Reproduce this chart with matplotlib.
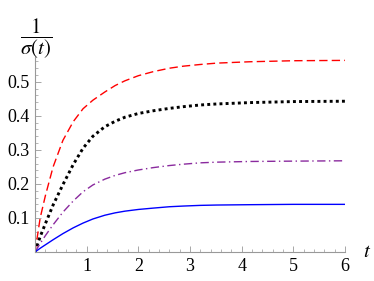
import matplotlib.pyplot as plt
from matplotlib.ticker import MultipleLocator

# values
t = [0, 0.1, 0.2, 0.35, 0.54, 0.74, 0.93, 1.12, 1.35, 1.55, 1.74, 2.0, 2.29, 2.6,
     2.87, 3.2, 3.52, 4.16, 5.0, 6.0]
red = [0, 0.10, 0.165, 0.25, 0.328, 0.383, 0.421, 0.446, 0.470, 0.489, 0.503, 0.518,
       0.530, 0.540, 0.546, 0.551, 0.555, 0.559, 0.562, 0.563]
black = [0, 0.045, 0.083, 0.138, 0.198, 0.257, 0.305, 0.340, 0.368, 0.384, 0.396, 0.407,
         0.415, 0.422, 0.427, 0.432, 0.435, 0.439, 0.442, 0.443]
purple = [0, 0.025, 0.048, 0.080, 0.117, 0.150, 0.177, 0.197, 0.214, 0.225, 0.233, 0.241,
          0.248, 0.254, 0.258, 0.262, 0.264, 0.266, 0.267, 0.268]
blue = [0, 0.011, 0.021, 0.036, 0.054, 0.071, 0.085, 0.097, 0.108, 0.115, 0.120, 0.125,
        0.129, 0.133, 0.135, 0.137, 0.138, 0.139, 0.140, 0.140]

xticks = [1, 2, 3, 4, 5, 6]
yticks = [0.1, 0.2, 0.3, 0.4, 0.5]

plt.rcParams['font.family'] = 'Liberation Serif'
plt.rcParams['mathtext.fontset'] = 'stix'

fig = plt.figure(figsize=(3.74, 2.81), dpi=100)
ax = fig.add_axes([0.0936, 0.1032, 0.8289, 0.694])

ax.plot(t, red, color='#ff0000', lw=1.0, dashes=(6, 3))
ax.plot(t, black, color='black', lw=2.1, dashes=(1, 1.1))
ax.plot(t, purple, color='#8a2a9e', lw=1.0, dashes=(6, 2.5, 1, 2.5))
ax.plot(t, blue, color='#0000ff', lw=1.0)

ax.set_xlim(0, 6)
ax.set_ylim(0, 0.573)

for side in ['top', 'right']:
    ax.spines[side].set_visible(False)
for side in ['left', 'bottom']:
    ax.spines[side].set_color('#999999')
    ax.spines[side].set_linewidth(0.8)

ax.set_xticks(xticks)
ax.set_yticks(yticks)
ax.set_yticklabels([f'{v:.1f}' for v in yticks])
ax.xaxis.set_minor_locator(MultipleLocator(0.2))
ax.yaxis.set_minor_locator(MultipleLocator(0.02))
ax.tick_params(which='major', direction='in', length=4, width=0.6, color='#999999',
               labelsize=13, pad=4)
ax.tick_params(which='minor', direction='in', length=2, width=0.5, color='#999999')

ax.text(6.43, 0, '$t$', fontsize=15, ha='center', va='center')
fig.text(0.096, 0.86, r'$\dfrac{1}{\sigma(t)}$', fontsize=15, ha='center', va='center')

fig.savefig('out.png', dpi=100)
